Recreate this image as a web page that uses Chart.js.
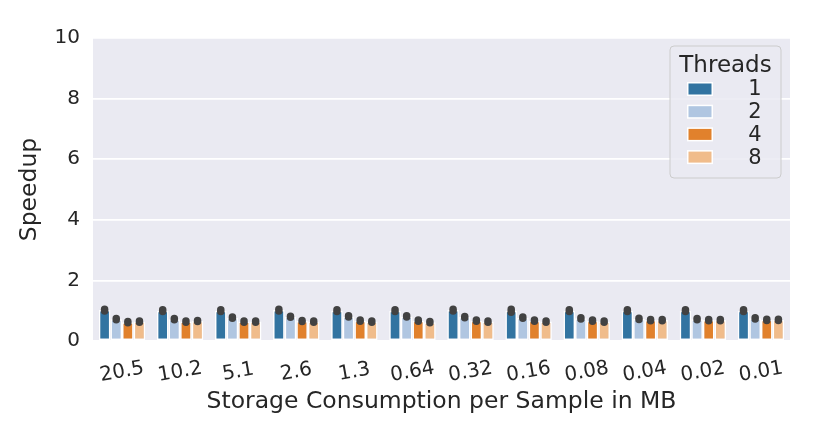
<!DOCTYPE html>
<html>
<head>
<meta charset="utf-8">
<script src="https://cdn.jsdelivr.net/npm/chart.js@4"></script>
<style>
  html, body { margin: 0; padding: 0; background: #fff; }
  #wrap { width: 829px; height: 434px; }
</style>
</head>
<body>
<div id="wrap"><canvas id="speedChart" width="829" height="434"></canvas></div>
<script>
// storage per sample (MB)
var sizes = ["20.5", "10.2", "5.1", "2.6", "1.3", "0.64", "0.32", "0.16", "0.08", "0.04", "0.02", "0.01"];
var threadLabels = ["1", "2", "4", "8"];
var yTicks = [0, 2, 4, 6, 8, 10];

// mean speedup per thread count
var speed1 = [1.02, 1.00, 1.00, 1.02, 1.00, 1.00, 1.02, 1.00, 1.00, 1.00, 1.00, 1.00];
var speed2 = [0.72, 0.72, 0.77, 0.80, 0.81, 0.81, 0.79, 0.77, 0.75, 0.73, 0.72, 0.75];
var speed4 = [0.62, 0.64, 0.64, 0.66, 0.67, 0.67, 0.67, 0.67, 0.67, 0.69, 0.69, 0.70];
var speed8 = [0.64, 0.66, 0.64, 0.64, 0.64, 0.62, 0.64, 0.64, 0.64, 0.69, 0.69, 0.70];

// half width of the error bars
var err1 = [0.03, 0.03, 0.03, 0.03, 0.03, 0.03, 0.03, 0.05, 0.03, 0.03, 0.03, 0.03];
var err2 = [0.02, 0.02, 0.02, 0.02, 0.02, 0.02, 0.02, 0.02, 0.02, 0.02, 0.02, 0.02];
var err4 = [0.02, 0.02, 0.02, 0.02, 0.02, 0.02, 0.02, 0.02, 0.02, 0.02, 0.02, 0.02];
var err8 = [0.02, 0.02, 0.02, 0.02, 0.02, 0.02, 0.02, 0.02, 0.02, 0.02, 0.02, 0.02];

var colors = ["#3274a1", "#b0c6e1", "#e1812c", "#f0bc8b"];
var textColor = "#262626";
var fontFam = "'DejaVu Sans', sans-serif";

var series = [speed1, speed2, speed4, speed8];
var errs = [err1, err2, err4, err8];

var datasets = [];
for (var s = 0; s < series.length; s++) {
    datasets.push({
        label: threadLabels[s],
        data: series[s],
        errs: errs[s],
        backgroundColor: colors[s],
        borderColor: "#ffffff",
        borderWidth: 1.5,
        borderSkipped: false,
        categoryPercentage: 0.8,
        barPercentage: 1.0
    });
}

// axes background
var bgPlugin = {
    id: "bg",
    beforeDraw: function(chart) {
        var a = chart.chartArea, ctx = chart.ctx;
        ctx.save();
        ctx.fillStyle = "#eaeaf2";
        ctx.fillRect(a.left, a.top, a.right - a.left, a.bottom - a.top);
        ctx.restore();
    }
};

// error bars, rotated x labels, legend
var extrasPlugin = {
    id: "extras",
    afterDatasetsDraw: function(chart) {
        var ctx = chart.ctx, y = chart.scales.y;
        ctx.save();
        ctx.strokeStyle = "#424242";
        ctx.lineWidth = 7.5;
        ctx.lineCap = "round";
        chart.data.datasets.forEach(function(ds, di) {
            var meta = chart.getDatasetMeta(di);
            meta.data.forEach(function(bar, i) {
                var v = ds.data[i], e = ds.errs[i];
                ctx.beginPath();
                ctx.moveTo(bar.x, y.getPixelForValue(v - e));
                ctx.lineTo(bar.x, y.getPixelForValue(v + e));
                ctx.stroke();
            });
        });
        ctx.restore();
    },
    afterDraw: function(chart) {
        var ctx = chart.ctx, x = chart.scales.x;
        ctx.save();
        ctx.fillStyle = textColor;
        ctx.font = "20px " + fontFam;
        ctx.textAlign = "center";
        ctx.textBaseline = "middle";
        sizes.forEach(function(lab, i) {
            ctx.save();
            ctx.translate(x.getPixelForValue(i), 372);
            ctx.rotate(-10 * Math.PI / 180);
            ctx.fillText(lab, 0, 0);
            ctx.restore();
        });

        // legend
        var lx = 670, ly = 46, lw = 111, lh = 132;
        ctx.beginPath();
        ctx.roundRect(lx, ly, lw, lh, 4);
        ctx.fillStyle = "rgba(234,234,242,0.85)";
        ctx.fill();
        ctx.strokeStyle = "#cccccc";
        ctx.lineWidth = 1;
        ctx.stroke();
        ctx.fillStyle = textColor;
        ctx.font = "23px " + fontFam;
        ctx.fillText("Threads", lx + lw / 2, ly + 20);
        ctx.font = "21px " + fontFam;
        for (var k = 0; k < threadLabels.length; k++) {
            var ry = ly + 43 + k * 22.7;
            ctx.fillStyle = "#ffffff";
            ctx.fillRect(lx + 17, ry - 7, 26, 14);
            ctx.fillStyle = colors[k];
            ctx.fillRect(lx + 18.5, ry - 5.5, 23, 11);
            ctx.fillStyle = textColor;
            ctx.fillText(threadLabels[k], lx + 85, ry + 1);
        }
        ctx.restore();
    }
};

var ctx = document.getElementById("speedChart");
var speedChart = new Chart(ctx, {
    type: "bar",
    data: { labels: sizes, datasets: datasets },
    options: {
        responsive: false,
        animation: false,
        devicePixelRatio: 1,
        layout: { padding: { left: 0, top: 38, right: 39, bottom: 0 } },
        plugins: {
            legend: { display: false },
            tooltip: { enabled: false }
        },
        scales: {
            x: {
                grid: { display: false },
                border: { display: false },
                ticks: { display: false },
                title: {
                    display: true,
                    text: "Storage Consumption per Sample in MB",
                    color: textColor,
                    font: { family: fontFam, size: 23.5 },
                    padding: { top: 0, bottom: 18 }
                },
                afterFit: function(scale) { scale.height = 93; }
            },
            y: {
                min: 0,
                max: 10,
                afterBuildTicks: function(scale) {
                    scale.ticks = yTicks.map(function(v) { return { value: v }; });
                },
                grid: { color: "#ffffff", lineWidth: 1.8, drawTicks: false },
                border: { display: false },
                ticks: {
                    color: textColor,
                    padding: 13,
                    font: { family: fontFam, size: 20 }
                },
                title: {
                    display: true,
                    text: "Speedup",
                    color: textColor,
                    font: { family: fontFam, size: 23.5 },
                    padding: { top: 16, bottom: 0 }
                },
                afterFit: function(scale) { scale.width = 93; }
            }
        }
    },
    plugins: [bgPlugin, extrasPlugin]
});
</script>
</body>
</html>
